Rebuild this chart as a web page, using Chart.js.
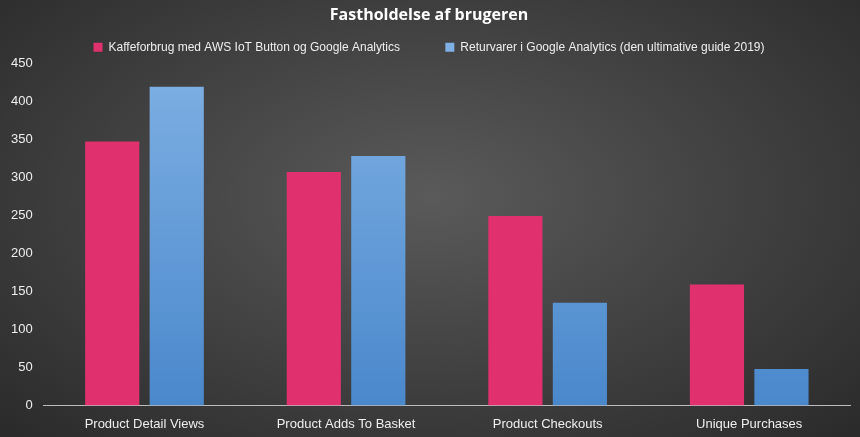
<!DOCTYPE html>
<html><head><meta charset="utf-8">
<script src="https://cdn.jsdelivr.net/npm/chart.js@4"></script>
<style>
html,body{margin:0;padding:0;}
body{width:860px;height:437px;background:radial-gradient(ellipse at 50% 45%,#5a5a5a 0%,#444 45%,#2a2a2a 100%);}
#wrap{width:860px;height:437px;}
</style></head>
<body><div id="wrap"><canvas id="c"></canvas></div>
<script>
const categories = ['Product Detail Views', 'Product Adds To Basket', 'Product Checkouts', 'Unique Purchases'];
const coffeeValues = [347, 307, 249, 159];
const returnValues = [419, 328, 135, 48];
const seriesNames = ['Kaffeforbrug med AWS IoT Button og Google Analytics', 'Returvarer i Google Analytics (den ultimative guide 2019)'];

const ctx = document.getElementById('c');
function blueFill(context) {
    const area = context.chart.chartArea;
    if (!area) return '#5b9bd5';
    const g = context.chart.ctx.createLinearGradient(0, area.top, 0, area.bottom);
    g.addColorStop(0, '#7eb0e3');
    g.addColorStop(1, '#4a88cc');
    return g;
}
new Chart(ctx, {
    type: 'bar',
    data: {
        labels: categories,
        datasets: [
            { label: seriesNames[0] + '          ', data: coffeeValues, backgroundColor: '#e0306d' },
            { label: seriesNames[1], data: returnValues, backgroundColor: blueFill }
        ]
    },
    options: {
        responsive: true,
        maintainAspectRatio: false,
        animation: false,
        layout: { padding: { left: 8, right: 10, top: 4, bottom: 2 } },
        datasets: { bar: { categoryPercentage: 0.64, barPercentage: 0.84 } },
        plugins: {
            title: {
                display: true, text: 'Fastholdelse af brugeren', color: '#fff',
                font: { family: 'Open Sans', size: 16, weight: 'bold' }, padding: { top: 2, bottom: 4 }
            },
            legend: {
                labels: {
                    color: '#eee', boxWidth: 9, boxHeight: 9, padding: 12,
                    font: { family: 'Liberation Sans', size: 12 }
                }
            },
            tooltip: { enabled: false }
        },
        scales: {
            x: {
                grid: { display: false },
                border: { color: '#bbb' },
                ticks: { color: '#eee', font: { family: 'Liberation Sans', size: 13 } }
            },
            y: {
                min: 0, max: 450,
                grid: { display: false },
                border: { display: false },
                ticks: { stepSize: 50, color: '#eee', font: { family: 'Liberation Sans', size: 13 } }
            }
        }
    }
});
</script></body></html>
